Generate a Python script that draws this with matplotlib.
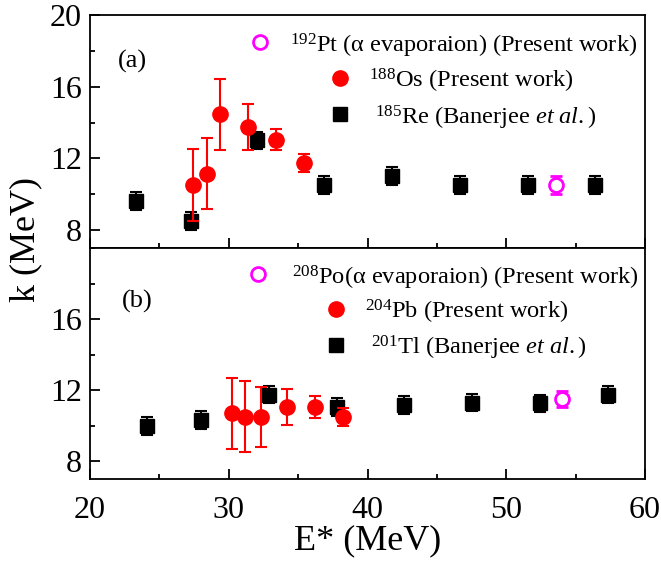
import matplotlib
matplotlib.use("Agg")
import matplotlib.pyplot as plt
from matplotlib.ticker import MultipleLocator

plt.rcParams['font.family'] = ['Liberation Serif', 'DejaVu Serif']
plt.rcParams['mathtext.fontset'] = 'custom'
plt.rcParams['mathtext.rm'] = 'Liberation Serif'
plt.rcParams['mathtext.it'] = 'Liberation Serif:italic'

# ---- data: panel (a) ----
re_x = [23.3, 27.25, 32.0, 36.9, 41.8, 46.7, 51.6, 56.4]
re_y = [9.6, 8.5, 13.0, 10.5, 11.0, 10.5, 10.5, 10.5]
re_err = [0.5, 0.5, 0.5, 0.5, 0.5, 0.5, 0.5, 0.5]

os_x = [27.4, 28.4, 29.4, 31.4, 33.4, 35.4]
os_y = [10.5, 11.15, 14.45, 13.75, 13.05, 11.75]
os_err = [2.0, 2.0, 2.0, 1.3, 0.6, 0.5]

pt_x = [53.6]
pt_y = [10.5]
pt_err = [0.5]

# ---- data: panel (b) ----
tl_x = [24.1, 28.0, 32.9, 37.8, 42.6, 47.5, 52.4, 57.3]
tl_y = [10.0, 10.3, 11.75, 11.05, 11.15, 11.3, 11.25, 11.75]
tl_err = [0.5, 0.5, 0.5, 0.5, 0.5, 0.5, 0.5, 0.5]

pb_x = [30.2, 31.2, 32.3, 34.2, 36.2, 38.2]
pb_y = [10.7, 10.5, 10.5, 11.05, 11.05, 10.5]
pb_err = [2.0, 2.0, 1.7, 1.0, 0.6, 0.5]

po_x = [54.0]
po_y = [11.5]
po_err = [0.45]

labels_a = [r'$^{192}$Pt (α evaporaion) (Present work)',
            r'$^{188}$Os (Present work)',
            r'$^{185}$Re (Banerjee $\mathit{et\ al.}$)']
labels_b = [r'$^{208}$Po(α evaporaion) (Present work)',
            r'$^{204}$Pb (Present work)',
            r'$^{201}$Tl (Banerjee $\mathit{et\ al.}$)']

fig = plt.figure(figsize=(6.61, 5.67), dpi=100)
L, R = 90/661, 645/661
ymid = 1 - 248/567
ytop = 1 - 15/567
ybot = 1 - 479/567
ax1 = fig.add_axes([L, ymid, R - L, ytop - ymid])
ax2 = fig.add_axes([L, ybot, R - L, ymid - ybot], sharex=ax1)

TS = 23
LS = 17.6
sq = dict(fmt='s', color='black', ms=10, capsize=4, elinewidth=1.5, capthick=1.5)
rc = dict(fmt='o', color='red', ms=11, capsize=4, elinewidth=1.5, capthick=1.5)
mc = dict(fmt='o', color='magenta', mfc='white', mec='magenta', mew=2, ms=10,
          capsize=4, elinewidth=1.5, capthick=1.5)

def panel(ax, bx, by, be, rx, ry, re_, mx, my, me, labels, tag, leg):
    ax.errorbar(bx, by, yerr=be, zorder=3, **sq)
    ax.errorbar(rx, ry, yerr=re_, zorder=4, **rc)
    ax.errorbar(mx, my, yerr=me, zorder=5, **mc)
    ax.set_xlim(20, 60)
    ax.set_ylim(7, 20)
    ax.xaxis.set_major_locator(MultipleLocator(10))
    ax.xaxis.set_minor_locator(MultipleLocator(5))
    ax.yaxis.set_minor_locator(MultipleLocator(2))
    ax.tick_params(which='major', direction='in', length=7, width=1.3,
                   labelsize=TS, top=False, right=False, pad=6)
    ax.tick_params(which='minor', direction='in', length=3.6, width=1.3,
                   top=False, right=False)
    ax.tick_params(axis='x', which='major', pad=12)
    for s in ax.spines.values():
        s.set_linewidth(1.3)
    # legend (manual)
    (mxp, myp, tx1), (rxp, ryp, tx2), (kxp, kyp, tx3) = leg
    ax.plot([mxp], [myp], 'o', mfc='white', mec='magenta', mew=2, ms=10,
            transform=ax.transAxes, clip_on=False)
    ax.plot([rxp], [ryp], 'o', color='red', ms=11, transform=ax.transAxes)
    ax.plot([kxp], [kyp], 's', color='black', ms=10, transform=ax.transAxes)
    off = 10/233
    ax.text(tx1, myp - off, labels[0], fontsize=LS, va='baseline',
            transform=ax.transAxes)
    ax.text(tx2, ryp - off, labels[1], fontsize=LS, va='baseline',
            transform=ax.transAxes)
    ax.text(tx3, kyp - off, labels[2], fontsize=LS, va='baseline',
            transform=ax.transAxes)
    ax.text(tag[0], tag[1], tag[2], fontsize=19, ha='center', va='center',
            transform=ax.transAxes)

panel(ax1, re_x, re_y, re_err, os_x, os_y, os_err, pt_x, pt_y, pt_err, labels_a,
      (0.076, 0.800, '(a)'),
      [(0.306, 0.884, 0.360), (0.450, 0.730, 0.503), (0.450, 0.575, 0.514)])
panel(ax2, tl_x, tl_y, tl_err, pb_x, pb_y, pb_err, po_x, po_y, po_err, labels_b,
      (0.085, 0.768, '(b)'),
      [(0.303, 0.887, 0.364), (0.443, 0.736, 0.495), (0.443, 0.580, 0.506)])

ax1.set_yticks([8, 12, 16, 20])
ax2.set_yticks([8, 12, 16])
ax1.tick_params(labelbottom=False)

ax2.set_xlabel('E* (MeV)', fontsize=26, labelpad=0)
fig.text(26/661, 1 - 240/567, 'k (MeV)', rotation=90, fontsize=26,
         ha='center', va='center')

fig.savefig('out.png', dpi=100)
